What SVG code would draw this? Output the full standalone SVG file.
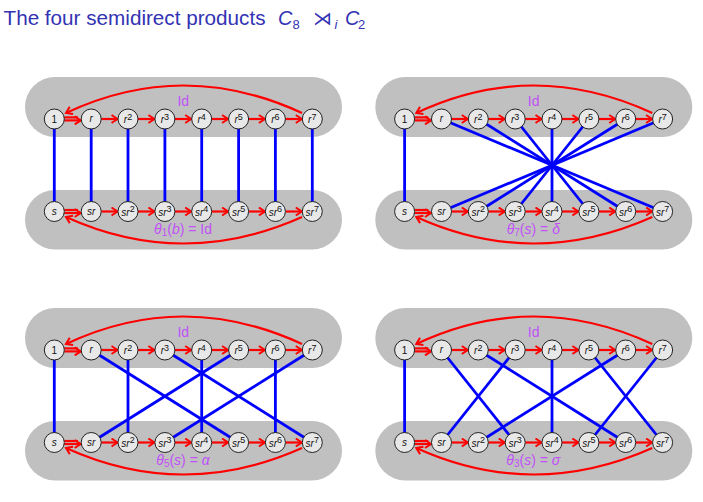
<svg xmlns="http://www.w3.org/2000/svg" width="703" height="502" viewBox="0 0 703 502">
<defs>
<style>
.band{fill:#c0c0c0}
.nd circle{fill:#e8e8e8;stroke:#222;stroke-width:1}
.nd text{font-family:"Liberation Sans",Arial,sans-serif;font-size:10px;text-anchor:middle;fill:#111}
.it{font-style:italic}
.sup{font-size:9px}
.bl{stroke:#0000ff;stroke-width:2.8;fill:none}
.rd{stroke:#ff0000;stroke-width:2.2;fill:none}
.ar{marker-end:url(#ah)}
.lbl{font-family:"Liberation Sans",Arial,sans-serif;font-size:14px;fill:#c050f8;text-anchor:middle}
.ttl{font-family:"Liberation Sans",Arial,sans-serif;fill:#3333b3}
</style>
<marker id="ah" viewBox="0 0 10 10" markerWidth="10" markerHeight="10" refX="7" refY="5" orient="auto" markerUnits="userSpaceOnUse">
<path d="M1,1 L7,5 L1,9" fill="none" stroke="#ff0000" stroke-width="2"/>
</marker>
</defs>
<rect width="703" height="502" fill="#ffffff"/>
<g id="title">
<text class="ttl" x="3.5" y="25" font-size="20" textLength="262" lengthAdjust="spacingAndGlyphs">The four semidirect products</text>
<text class="ttl it" x="278" y="25" font-size="20">C</text>
<text class="ttl" x="292.5" y="28.5" font-size="13">8</text>
<text class="ttl" x="313" y="25" font-size="19" font-family="DejaVu Sans">⋊</text>
<text class="ttl it" x="334.5" y="28.5" font-size="13">i</text>
<text class="ttl it" x="345" y="25" font-size="20">C</text>
<text class="ttl" x="358" y="28.5" font-size="13">2</text>
</g>

<!-- ============ Panel top-left ============ -->
<g id="panel-tl">
<rect class="band" x="25" y="77" width="317" height="60" rx="30"/>
<rect class="band" x="25" y="190" width="317" height="59.5" rx="30"/>
<text class="lbl" x="183.3" y="105.5">Id</text>
<text class="lbl" x="183" y="233.5"><tspan class="it">θ</tspan><tspan font-size="10" dy="2">1</tspan><tspan dy="-2">(</tspan><tspan class="it">b</tspan>) = Id</text>
<g id="tl-connectors">
<line class="bl" x1="54.3" y1="119" x2="54.3" y2="211.5"/>
<line class="bl" x1="91.2" y1="119" x2="91.2" y2="211.5"/>
<line class="bl" x1="128" y1="119" x2="128" y2="211.5"/>
<line class="bl" x1="164.9" y1="119" x2="164.9" y2="211.5"/>
<line class="bl" x1="201.7" y1="119" x2="201.7" y2="211.5"/>
<line class="bl" x1="238.6" y1="119" x2="238.6" y2="211.5"/>
<line class="bl" x1="275.4" y1="119" x2="275.4" y2="211.5"/>
<line class="bl" x1="312.3" y1="119" x2="312.3" y2="211.5"/>
<path class="rd" d="M64.3,117.4 H78"/><path class="rd ar" d="M64.3,120.4 H80.7"/>
<path class="rd ar" d="M101.2,119 H117.5"/>
<path class="rd ar" d="M138,119 H154.4"/>
<path class="rd ar" d="M174.9,119 H191.2"/>
<path class="rd ar" d="M211.7,119 H228.1"/>
<path class="rd ar" d="M248.6,119 H264.9"/>
<path class="rd ar" d="M285.4,119 H301.8"/>
<path class="rd ar" d="M302,113 Q183,58 66,113"/>
<path class="rd" d="M64.3,210 H78"/><path class="rd ar" d="M64.3,213 H80.7"/>
<path class="rd ar" d="M101.2,211.5 H117.5"/>
<path class="rd ar" d="M138,211.5 H154.4"/>
<path class="rd ar" d="M174.9,211.5 H191.2"/>
<path class="rd ar" d="M211.7,211.5 H228.1"/>
<path class="rd ar" d="M248.6,211.5 H264.9"/>
<path class="rd ar" d="M285.4,211.5 H301.8"/>
<path class="rd ar" d="M302,217 Q183,270 66,217"/>
</g>
<g id="tl-nodes">
<g id="tl-1" class="nd"><circle cx="54.3" cy="119" r="10"/><text x="54.3" y="122.5">1</text></g>
<g id="tl-r" class="nd"><circle cx="91.2" cy="119" r="10"/><text x="91.2" y="122" class="it">r</text></g>
<g id="tl-r2" class="nd"><circle cx="128" cy="119" r="10"/><text x="128" y="123"><tspan class="it">r</tspan><tspan class="sup" dy="-3.5">2</tspan></text></g>
<g id="tl-r3" class="nd"><circle cx="164.9" cy="119" r="10"/><text x="164.9" y="123"><tspan class="it">r</tspan><tspan class="sup" dy="-3.5">3</tspan></text></g>
<g id="tl-r4" class="nd"><circle cx="201.7" cy="119" r="10"/><text x="201.7" y="123"><tspan class="it">r</tspan><tspan class="sup" dy="-3.5">4</tspan></text></g>
<g id="tl-r5" class="nd"><circle cx="238.6" cy="119" r="10"/><text x="238.6" y="123"><tspan class="it">r</tspan><tspan class="sup" dy="-3.5">5</tspan></text></g>
<g id="tl-r6" class="nd"><circle cx="275.4" cy="119" r="10"/><text x="275.4" y="123"><tspan class="it">r</tspan><tspan class="sup" dy="-3.5">6</tspan></text></g>
<g id="tl-r7" class="nd"><circle cx="312.3" cy="119" r="10"/><text x="312.3" y="123"><tspan class="it">r</tspan><tspan class="sup" dy="-3.5">7</tspan></text></g>
<g id="tl-s" class="nd"><circle cx="54.3" cy="211.5" r="10"/><text x="54.3" y="214.5" class="it">s</text></g>
<g id="tl-sr" class="nd"><circle cx="91.2" cy="211.5" r="10"/><text x="91.2" y="214.5" class="it">sr</text></g>
<g id="tl-sr2" class="nd"><circle cx="128" cy="211.5" r="10"/><text x="128" y="215.5"><tspan class="it">sr</tspan><tspan class="sup" dy="-3.5">2</tspan></text></g>
<g id="tl-sr3" class="nd"><circle cx="164.9" cy="211.5" r="10"/><text x="164.9" y="215.5"><tspan class="it">sr</tspan><tspan class="sup" dy="-3.5">3</tspan></text></g>
<g id="tl-sr4" class="nd"><circle cx="201.7" cy="211.5" r="10"/><text x="201.7" y="215.5"><tspan class="it">sr</tspan><tspan class="sup" dy="-3.5">4</tspan></text></g>
<g id="tl-sr5" class="nd"><circle cx="238.6" cy="211.5" r="10"/><text x="238.6" y="215.5"><tspan class="it">sr</tspan><tspan class="sup" dy="-3.5">5</tspan></text></g>
<g id="tl-sr6" class="nd"><circle cx="275.4" cy="211.5" r="10"/><text x="275.4" y="215.5"><tspan class="it">sr</tspan><tspan class="sup" dy="-3.5">6</tspan></text></g>
<g id="tl-sr7" class="nd"><circle cx="312.3" cy="211.5" r="10"/><text x="312.3" y="215.5"><tspan class="it">sr</tspan><tspan class="sup" dy="-3.5">7</tspan></text></g>
</g>
</g>

<!-- ============ Panel top-right ============ -->
<g id="panel-tr" transform="translate(350.3,0)">
<rect class="band" x="25" y="77" width="317" height="60" rx="30"/>
<rect class="band" x="25" y="190" width="317" height="59.5" rx="30"/>
<text class="lbl" x="183.3" y="105.5">Id</text>
<text class="lbl" x="183" y="233.5"><tspan class="it">θ</tspan><tspan font-size="10" dy="2">7</tspan><tspan dy="-2">(</tspan><tspan class="it">s</tspan>) = <tspan class="it">δ</tspan></text>
<g id="tr-connectors">
<line class="bl" x1="54.3" y1="119" x2="54.3" y2="211.5"/>
<line class="bl" x1="91.2" y1="119" x2="312.3" y2="211.5"/>
<line class="bl" x1="128" y1="119" x2="275.4" y2="211.5"/>
<line class="bl" x1="164.9" y1="119" x2="238.6" y2="211.5"/>
<line class="bl" x1="201.7" y1="119" x2="201.7" y2="211.5"/>
<line class="bl" x1="238.6" y1="119" x2="164.9" y2="211.5"/>
<line class="bl" x1="275.4" y1="119" x2="128" y2="211.5"/>
<line class="bl" x1="312.3" y1="119" x2="91.2" y2="211.5"/>
<path class="rd" d="M64.3,117.4 H78"/><path class="rd ar" d="M64.3,120.4 H80.7"/>
<path class="rd ar" d="M101.2,119 H117.5"/>
<path class="rd ar" d="M138,119 H154.4"/>
<path class="rd ar" d="M174.9,119 H191.2"/>
<path class="rd ar" d="M211.7,119 H228.1"/>
<path class="rd ar" d="M248.6,119 H264.9"/>
<path class="rd ar" d="M285.4,119 H301.8"/>
<path class="rd ar" d="M302,113 Q183,58 66,113"/>
<path class="rd" d="M64.3,210 H78"/><path class="rd ar" d="M64.3,213 H80.7"/>
<path class="rd ar" d="M101.2,211.5 H117.5"/>
<path class="rd ar" d="M138,211.5 H154.4"/>
<path class="rd ar" d="M174.9,211.5 H191.2"/>
<path class="rd ar" d="M211.7,211.5 H228.1"/>
<path class="rd ar" d="M248.6,211.5 H264.9"/>
<path class="rd ar" d="M285.4,211.5 H301.8"/>
<path class="rd ar" d="M302,217 Q183,270 66,217"/>
</g>
<g id="tr-nodes">
<g id="tr-1" class="nd"><circle cx="54.3" cy="119" r="10"/><text x="54.3" y="122.5">1</text></g>
<g id="tr-r" class="nd"><circle cx="91.2" cy="119" r="10"/><text x="91.2" y="122" class="it">r</text></g>
<g id="tr-r2" class="nd"><circle cx="128" cy="119" r="10"/><text x="128" y="123"><tspan class="it">r</tspan><tspan class="sup" dy="-3.5">2</tspan></text></g>
<g id="tr-r3" class="nd"><circle cx="164.9" cy="119" r="10"/><text x="164.9" y="123"><tspan class="it">r</tspan><tspan class="sup" dy="-3.5">3</tspan></text></g>
<g id="tr-r4" class="nd"><circle cx="201.7" cy="119" r="10"/><text x="201.7" y="123"><tspan class="it">r</tspan><tspan class="sup" dy="-3.5">4</tspan></text></g>
<g id="tr-r5" class="nd"><circle cx="238.6" cy="119" r="10"/><text x="238.6" y="123"><tspan class="it">r</tspan><tspan class="sup" dy="-3.5">5</tspan></text></g>
<g id="tr-r6" class="nd"><circle cx="275.4" cy="119" r="10"/><text x="275.4" y="123"><tspan class="it">r</tspan><tspan class="sup" dy="-3.5">6</tspan></text></g>
<g id="tr-r7" class="nd"><circle cx="312.3" cy="119" r="10"/><text x="312.3" y="123"><tspan class="it">r</tspan><tspan class="sup" dy="-3.5">7</tspan></text></g>
<g id="tr-s" class="nd"><circle cx="54.3" cy="211.5" r="10"/><text x="54.3" y="214.5" class="it">s</text></g>
<g id="tr-sr" class="nd"><circle cx="91.2" cy="211.5" r="10"/><text x="91.2" y="214.5" class="it">sr</text></g>
<g id="tr-sr2" class="nd"><circle cx="128" cy="211.5" r="10"/><text x="128" y="215.5"><tspan class="it">sr</tspan><tspan class="sup" dy="-3.5">2</tspan></text></g>
<g id="tr-sr3" class="nd"><circle cx="164.9" cy="211.5" r="10"/><text x="164.9" y="215.5"><tspan class="it">sr</tspan><tspan class="sup" dy="-3.5">3</tspan></text></g>
<g id="tr-sr4" class="nd"><circle cx="201.7" cy="211.5" r="10"/><text x="201.7" y="215.5"><tspan class="it">sr</tspan><tspan class="sup" dy="-3.5">4</tspan></text></g>
<g id="tr-sr5" class="nd"><circle cx="238.6" cy="211.5" r="10"/><text x="238.6" y="215.5"><tspan class="it">sr</tspan><tspan class="sup" dy="-3.5">5</tspan></text></g>
<g id="tr-sr6" class="nd"><circle cx="275.4" cy="211.5" r="10"/><text x="275.4" y="215.5"><tspan class="it">sr</tspan><tspan class="sup" dy="-3.5">6</tspan></text></g>
<g id="tr-sr7" class="nd"><circle cx="312.3" cy="211.5" r="10"/><text x="312.3" y="215.5"><tspan class="it">sr</tspan><tspan class="sup" dy="-3.5">7</tspan></text></g>
</g>
</g>

<!-- ============ Panel bottom-left ============ -->
<g id="panel-bl" transform="translate(0,231)">
<rect class="band" x="25" y="77" width="317" height="60" rx="30"/>
<rect class="band" x="25" y="190" width="317" height="59.5" rx="30"/>
<text class="lbl" x="183.3" y="105.5">Id</text>
<text class="lbl" x="183" y="233.5"><tspan class="it">θ</tspan><tspan font-size="10" dy="2">5</tspan><tspan dy="-2">(</tspan><tspan class="it">s</tspan>) = <tspan class="it">α</tspan></text>
<g id="bl-connectors">
<line class="bl" x1="54.3" y1="119" x2="54.3" y2="211.5"/>
<line class="bl" x1="91.2" y1="119" x2="238.6" y2="211.5"/>
<line class="bl" x1="128" y1="119" x2="128" y2="211.5"/>
<line class="bl" x1="164.9" y1="119" x2="312.3" y2="211.5"/>
<line class="bl" x1="201.7" y1="119" x2="201.7" y2="211.5"/>
<line class="bl" x1="238.6" y1="119" x2="91.2" y2="211.5"/>
<line class="bl" x1="275.4" y1="119" x2="275.4" y2="211.5"/>
<line class="bl" x1="312.3" y1="119" x2="164.9" y2="211.5"/>
<path class="rd" d="M64.3,117.4 H78"/><path class="rd ar" d="M64.3,120.4 H80.7"/>
<path class="rd ar" d="M101.2,119 H117.5"/>
<path class="rd ar" d="M138,119 H154.4"/>
<path class="rd ar" d="M174.9,119 H191.2"/>
<path class="rd ar" d="M211.7,119 H228.1"/>
<path class="rd ar" d="M248.6,119 H264.9"/>
<path class="rd ar" d="M285.4,119 H301.8"/>
<path class="rd ar" d="M302,113 Q183,58 66,113"/>
<path class="rd" d="M64.3,210 H78"/><path class="rd ar" d="M64.3,213 H80.7"/>
<path class="rd ar" d="M101.2,211.5 H117.5"/>
<path class="rd ar" d="M138,211.5 H154.4"/>
<path class="rd ar" d="M174.9,211.5 H191.2"/>
<path class="rd ar" d="M211.7,211.5 H228.1"/>
<path class="rd ar" d="M248.6,211.5 H264.9"/>
<path class="rd ar" d="M285.4,211.5 H301.8"/>
<path class="rd ar" d="M302,217 Q183,270 66,217"/>
</g>
<g id="bl-nodes">
<g id="bl-1" class="nd"><circle cx="54.3" cy="119" r="10"/><text x="54.3" y="122.5">1</text></g>
<g id="bl-r" class="nd"><circle cx="91.2" cy="119" r="10"/><text x="91.2" y="122" class="it">r</text></g>
<g id="bl-r2" class="nd"><circle cx="128" cy="119" r="10"/><text x="128" y="123"><tspan class="it">r</tspan><tspan class="sup" dy="-3.5">2</tspan></text></g>
<g id="bl-r3" class="nd"><circle cx="164.9" cy="119" r="10"/><text x="164.9" y="123"><tspan class="it">r</tspan><tspan class="sup" dy="-3.5">3</tspan></text></g>
<g id="bl-r4" class="nd"><circle cx="201.7" cy="119" r="10"/><text x="201.7" y="123"><tspan class="it">r</tspan><tspan class="sup" dy="-3.5">4</tspan></text></g>
<g id="bl-r5" class="nd"><circle cx="238.6" cy="119" r="10"/><text x="238.6" y="123"><tspan class="it">r</tspan><tspan class="sup" dy="-3.5">5</tspan></text></g>
<g id="bl-r6" class="nd"><circle cx="275.4" cy="119" r="10"/><text x="275.4" y="123"><tspan class="it">r</tspan><tspan class="sup" dy="-3.5">6</tspan></text></g>
<g id="bl-r7" class="nd"><circle cx="312.3" cy="119" r="10"/><text x="312.3" y="123"><tspan class="it">r</tspan><tspan class="sup" dy="-3.5">7</tspan></text></g>
<g id="bl-s" class="nd"><circle cx="54.3" cy="211.5" r="10"/><text x="54.3" y="214.5" class="it">s</text></g>
<g id="bl-sr" class="nd"><circle cx="91.2" cy="211.5" r="10"/><text x="91.2" y="214.5" class="it">sr</text></g>
<g id="bl-sr2" class="nd"><circle cx="128" cy="211.5" r="10"/><text x="128" y="215.5"><tspan class="it">sr</tspan><tspan class="sup" dy="-3.5">2</tspan></text></g>
<g id="bl-sr3" class="nd"><circle cx="164.9" cy="211.5" r="10"/><text x="164.9" y="215.5"><tspan class="it">sr</tspan><tspan class="sup" dy="-3.5">3</tspan></text></g>
<g id="bl-sr4" class="nd"><circle cx="201.7" cy="211.5" r="10"/><text x="201.7" y="215.5"><tspan class="it">sr</tspan><tspan class="sup" dy="-3.5">4</tspan></text></g>
<g id="bl-sr5" class="nd"><circle cx="238.6" cy="211.5" r="10"/><text x="238.6" y="215.5"><tspan class="it">sr</tspan><tspan class="sup" dy="-3.5">5</tspan></text></g>
<g id="bl-sr6" class="nd"><circle cx="275.4" cy="211.5" r="10"/><text x="275.4" y="215.5"><tspan class="it">sr</tspan><tspan class="sup" dy="-3.5">6</tspan></text></g>
<g id="bl-sr7" class="nd"><circle cx="312.3" cy="211.5" r="10"/><text x="312.3" y="215.5"><tspan class="it">sr</tspan><tspan class="sup" dy="-3.5">7</tspan></text></g>
</g>
</g>

<!-- ============ Panel bottom-right ============ -->
<g id="panel-br" transform="translate(350.3,231)">
<rect class="band" x="25" y="77" width="317" height="60" rx="30"/>
<rect class="band" x="25" y="190" width="317" height="59.5" rx="30"/>
<text class="lbl" x="183.3" y="105.5">Id</text>
<text class="lbl" x="183" y="233.5"><tspan class="it">θ</tspan><tspan font-size="10" dy="2">3</tspan><tspan dy="-2">(</tspan><tspan class="it">s</tspan>) = <tspan class="it">σ</tspan></text>
<g id="br-connectors">
<line class="bl" x1="54.3" y1="119" x2="54.3" y2="211.5"/>
<line class="bl" x1="91.2" y1="119" x2="164.9" y2="211.5"/>
<line class="bl" x1="128" y1="119" x2="275.4" y2="211.5"/>
<line class="bl" x1="164.9" y1="119" x2="91.2" y2="211.5"/>
<line class="bl" x1="201.7" y1="119" x2="201.7" y2="211.5"/>
<line class="bl" x1="238.6" y1="119" x2="312.3" y2="211.5"/>
<line class="bl" x1="275.4" y1="119" x2="128" y2="211.5"/>
<line class="bl" x1="312.3" y1="119" x2="238.6" y2="211.5"/>
<path class="rd" d="M64.3,117.4 H78"/><path class="rd ar" d="M64.3,120.4 H80.7"/>
<path class="rd ar" d="M101.2,119 H117.5"/>
<path class="rd ar" d="M138,119 H154.4"/>
<path class="rd ar" d="M174.9,119 H191.2"/>
<path class="rd ar" d="M211.7,119 H228.1"/>
<path class="rd ar" d="M248.6,119 H264.9"/>
<path class="rd ar" d="M285.4,119 H301.8"/>
<path class="rd ar" d="M302,113 Q183,58 66,113"/>
<path class="rd" d="M64.3,210 H78"/><path class="rd ar" d="M64.3,213 H80.7"/>
<path class="rd ar" d="M101.2,211.5 H117.5"/>
<path class="rd ar" d="M138,211.5 H154.4"/>
<path class="rd ar" d="M174.9,211.5 H191.2"/>
<path class="rd ar" d="M211.7,211.5 H228.1"/>
<path class="rd ar" d="M248.6,211.5 H264.9"/>
<path class="rd ar" d="M285.4,211.5 H301.8"/>
<path class="rd ar" d="M302,217 Q183,270 66,217"/>
</g>
<g id="br-nodes">
<g id="br-1" class="nd"><circle cx="54.3" cy="119" r="10"/><text x="54.3" y="122.5">1</text></g>
<g id="br-r" class="nd"><circle cx="91.2" cy="119" r="10"/><text x="91.2" y="122" class="it">r</text></g>
<g id="br-r2" class="nd"><circle cx="128" cy="119" r="10"/><text x="128" y="123"><tspan class="it">r</tspan><tspan class="sup" dy="-3.5">2</tspan></text></g>
<g id="br-r3" class="nd"><circle cx="164.9" cy="119" r="10"/><text x="164.9" y="123"><tspan class="it">r</tspan><tspan class="sup" dy="-3.5">3</tspan></text></g>
<g id="br-r4" class="nd"><circle cx="201.7" cy="119" r="10"/><text x="201.7" y="123"><tspan class="it">r</tspan><tspan class="sup" dy="-3.5">4</tspan></text></g>
<g id="br-r5" class="nd"><circle cx="238.6" cy="119" r="10"/><text x="238.6" y="123"><tspan class="it">r</tspan><tspan class="sup" dy="-3.5">5</tspan></text></g>
<g id="br-r6" class="nd"><circle cx="275.4" cy="119" r="10"/><text x="275.4" y="123"><tspan class="it">r</tspan><tspan class="sup" dy="-3.5">6</tspan></text></g>
<g id="br-r7" class="nd"><circle cx="312.3" cy="119" r="10"/><text x="312.3" y="123"><tspan class="it">r</tspan><tspan class="sup" dy="-3.5">7</tspan></text></g>
<g id="br-s" class="nd"><circle cx="54.3" cy="211.5" r="10"/><text x="54.3" y="214.5" class="it">s</text></g>
<g id="br-sr" class="nd"><circle cx="91.2" cy="211.5" r="10"/><text x="91.2" y="214.5" class="it">sr</text></g>
<g id="br-sr2" class="nd"><circle cx="128" cy="211.5" r="10"/><text x="128" y="215.5"><tspan class="it">sr</tspan><tspan class="sup" dy="-3.5">2</tspan></text></g>
<g id="br-sr3" class="nd"><circle cx="164.9" cy="211.5" r="10"/><text x="164.9" y="215.5"><tspan class="it">sr</tspan><tspan class="sup" dy="-3.5">3</tspan></text></g>
<g id="br-sr4" class="nd"><circle cx="201.7" cy="211.5" r="10"/><text x="201.7" y="215.5"><tspan class="it">sr</tspan><tspan class="sup" dy="-3.5">4</tspan></text></g>
<g id="br-sr5" class="nd"><circle cx="238.6" cy="211.5" r="10"/><text x="238.6" y="215.5"><tspan class="it">sr</tspan><tspan class="sup" dy="-3.5">5</tspan></text></g>
<g id="br-sr6" class="nd"><circle cx="275.4" cy="211.5" r="10"/><text x="275.4" y="215.5"><tspan class="it">sr</tspan><tspan class="sup" dy="-3.5">6</tspan></text></g>
<g id="br-sr7" class="nd"><circle cx="312.3" cy="211.5" r="10"/><text x="312.3" y="215.5"><tspan class="it">sr</tspan><tspan class="sup" dy="-3.5">7</tspan></text></g>
</g>
</g>
</svg>
